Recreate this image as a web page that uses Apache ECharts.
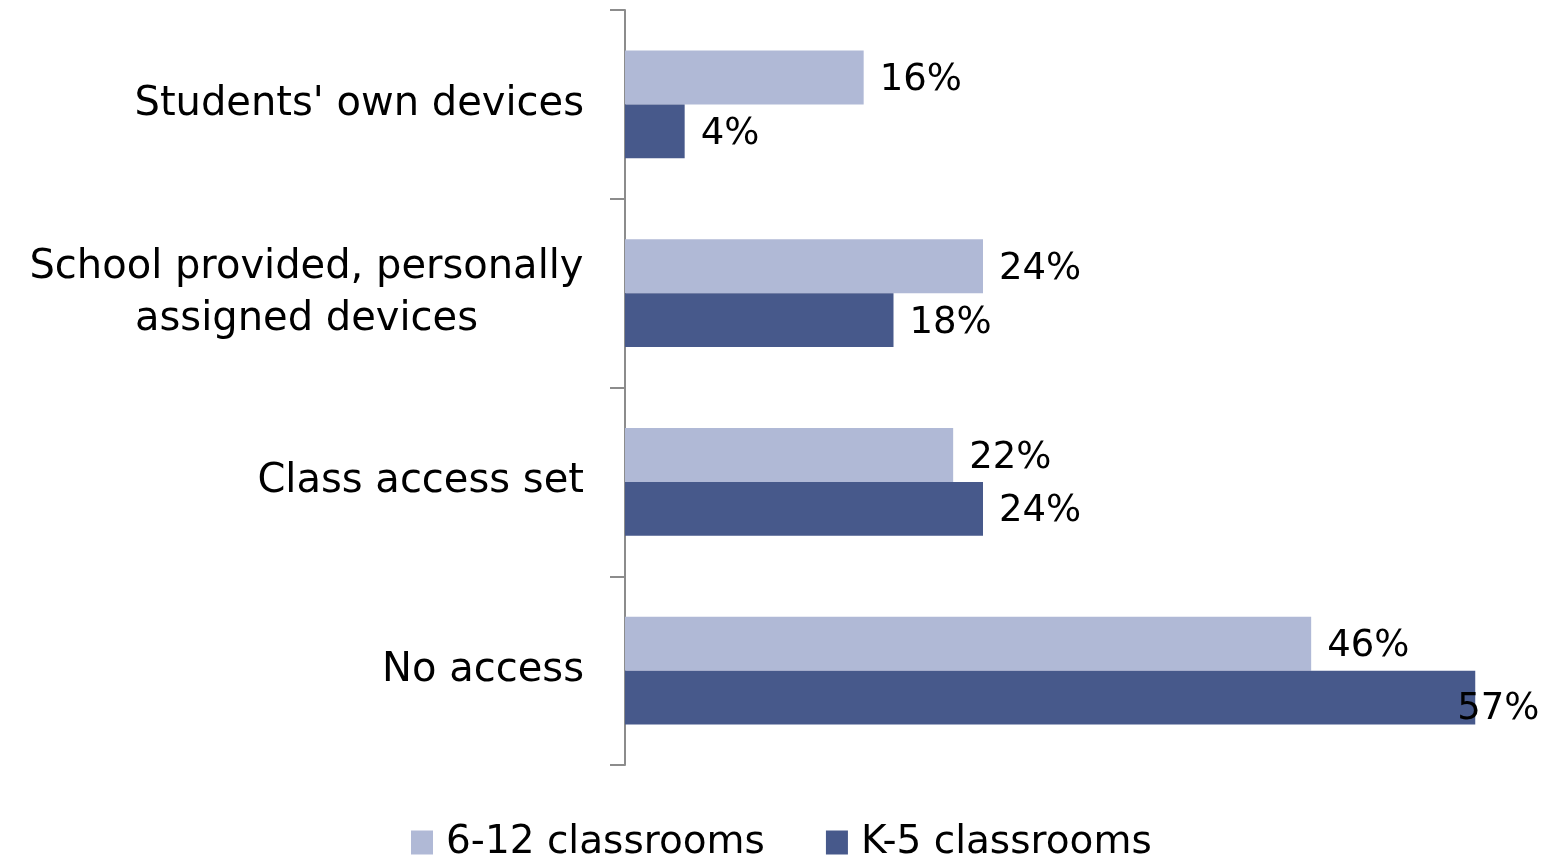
<!DOCTYPE html>
<html><head><meta charset="utf-8">
<script src="https://cdn.jsdelivr.net/npm/echarts@6/dist/echarts.min.js"></script>
<style>html,body{margin:0;padding:0;background:#fff}#c{width:1552px;height:857px}</style>
</head><body><div id="c"></div>
<script>
var categories = ["Students' own devices", "School provided, personally\nassigned devices", "Class access set", "No access"];
var seriesNames = ["6-12 classrooms", "K-5 classrooms"];
var grades612 = [16, 24, 22, 46];
var gradesK5 = [4, 18, 24, 57];

var FONT = '"DejaVu Sans", sans-serif';
var FS_CAT = 40, FS_VAL = 37, FS_LEG = 39;
var ctx = document.createElement('canvas').getContext('2d');
ctx.font = FS_CAT + 'px ' + FONT;
function w(t){ return Math.ceil(ctx.measureText(t).width); }

var chart = echarts.init(document.getElementById('c'));
function mkData(arr, isLast){
  return arr.map(function(v, i){
    var item = {value: v};
    if (isLast && v === Math.max.apply(null, arr)) item.label = {offset: [-34, 12]};
    return item;
  });
}
var lbl = {show: true, position: 'right', distance: 16, offset: [0, 3], formatter: '{c}%', color: '#000', fontSize: FS_VAL, fontFamily: FONT};
chart.setOption({
  animation: false,
  textStyle: {fontFamily: FONT},
  grid: {left: 625, top: 10, width: 895, height: 755, containLabel: false},
  legend: {
    top: 818, left: 406, itemWidth: 22, itemHeight: 24, itemGap: 61,
    icon: 'rect', data: seriesNames,
    textStyle: {fontSize: FS_LEG, color: '#000', fontFamily: FONT, padding: [0, 0, 0, 8]}
  },
  xAxis: {type: 'value', min: 0, max: 60, show: false, splitLine: {show: false}},
  yAxis: {
    type: 'category', inverse: true, data: categories,
    axisLine: {lineStyle: {color: '#8c8c8c', width: 2}},
    axisTick: {show: true, length: 15, lineStyle: {color: '#8c8c8c', width: 2}},
    axisLabel: {
      margin: 41, color: '#000', fontSize: FS_CAT, fontFamily: FONT, lineHeight: 52,
      formatter: function(v){
        if (v.indexOf('\n') < 0) return v;
        return v.split('\n').map(function(l){ return '{c|' + l + '}'; }).join('\n');
      },
      rich: {c: {fontSize: FS_CAT, fontFamily: FONT, color: '#000', lineHeight: 52, align: 'center',
        width: Math.max(w('School provided, personally'), w('assigned devices'))}}
    }
  },
  series: [
    {name: seriesNames[0], type: 'bar', data: mkData(grades612, false), barGap: '0%', barCategoryGap: '43%',
     itemStyle: {color: '#B0B9D6'}, label: lbl},
    {name: seriesNames[1], type: 'bar', data: mkData(gradesK5, true), barGap: '0%', barCategoryGap: '43%',
     itemStyle: {color: '#47598B'}, label: lbl}
  ]
});
</script></body></html>
